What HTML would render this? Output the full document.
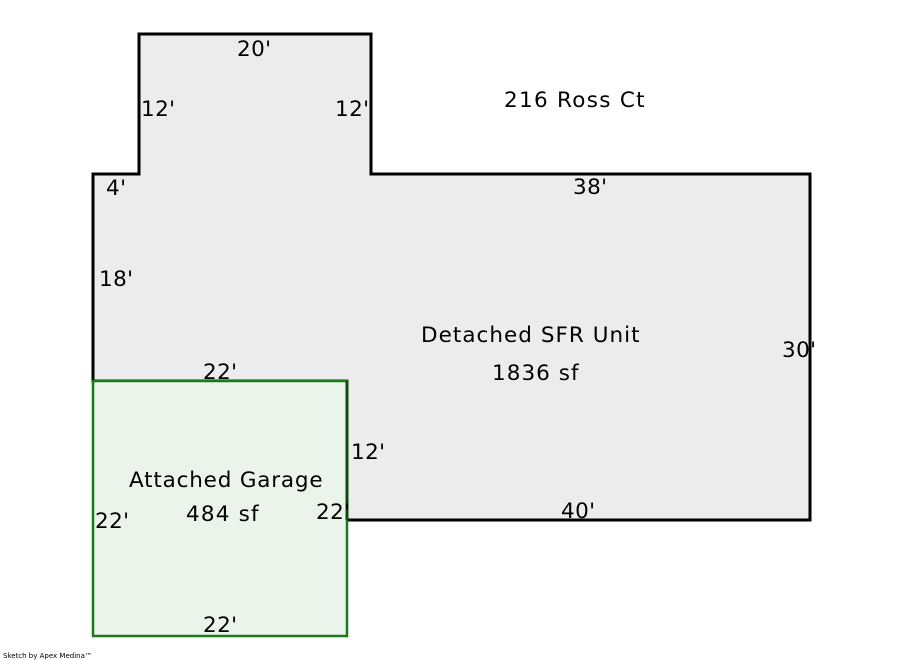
<!DOCTYPE html>
<html><head><style>
html,body{margin:0;padding:0;background:#fff;width:900px;height:660px;overflow:hidden}
svg text{font-family:"DejaVu Sans","Liberation Sans",sans-serif;font-size:21.5px;fill:#000;letter-spacing:0.4px}
</style></head><body>
<svg width="900" height="660" viewBox="0 0 900 660">
<polygon points="139,34 371,34 371,174 810,174 810,520 347,520 347,381 93,381 93,174 139,174" fill="#ececec" stroke="#000" stroke-width="3"/>
<rect x="93" y="381" width="254" height="255" fill="#ebf4eb" stroke="#1a7a1a" stroke-width="2.5"/>
<line x1="347" y1="381" x2="347" y2="520" stroke="#0a4a0a" stroke-width="3"/>
<text x="237" y="56">20'</text>
<text x="141" y="116">12'</text>
<text x="335" y="116">12'</text>
<text x="504" y="107" textLength="141">216 Ross Ct</text>
<text x="106" y="195">4'</text>
<text x="573" y="194">38'</text>
<text x="99" y="286">18'</text>
<text x="421" y="342" textLength="219">Detached SFR Unit</text>
<text x="492" y="380" textLength="87">1836 sf</text>
<text x="782" y="357">30'</text>
<text x="203" y="379">22'</text>
<text x="351" y="459">12'</text>
<text x="129" y="487" textLength="194">Attached Garage</text>
<text x="186" y="521" textLength="73">484 sf</text>
<text x="95" y="528">22'</text>
<text x="316" y="519">22'</text>
<text x="561" y="518">40'</text>
<text x="203" y="632">22'</text>
<text x="3" y="658" style="font-size:7px;letter-spacing:0">Sketch by Apex Medina™</text>
</svg>
</body></html>
